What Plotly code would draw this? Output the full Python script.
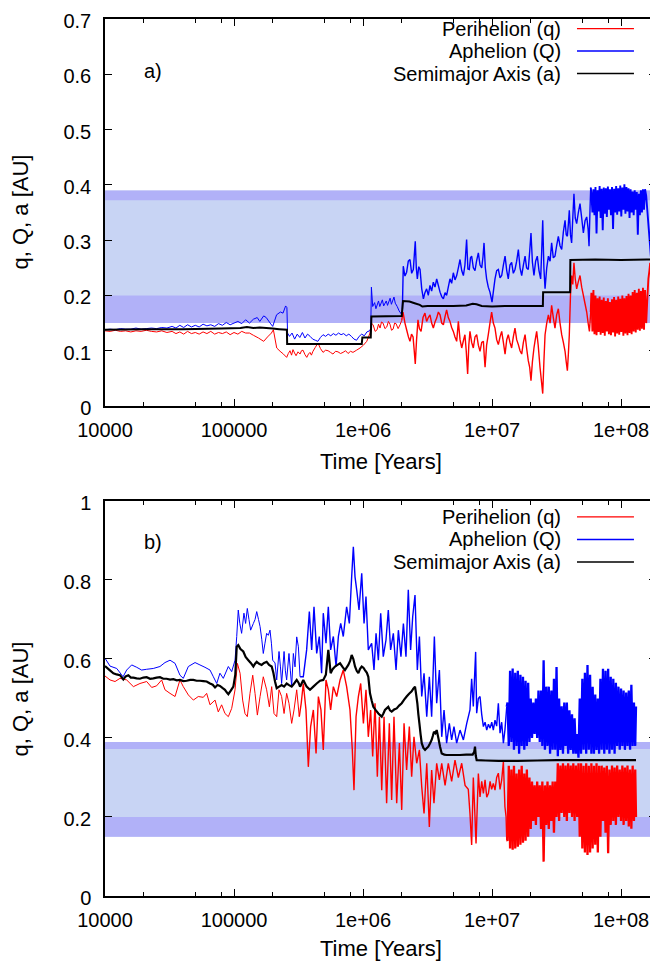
import plotly.graph_objects as go

# ---------------- Panel a) data : log10(time / yr) and AU ----------------
a_q_logt = [4.00, 4.04, 4.08, 4.12, 4.16, 4.20, 4.24, 4.28, 4.32, 4.36,
            4.40, 4.44, 4.48, 4.52, 4.55, 4.58, 4.61, 4.64, 4.67, 4.70,
            4.73, 4.76, 4.79, 4.82, 4.85, 4.88, 4.91, 4.94, 4.97, 5.00,
            5.03, 5.06, 5.09, 5.12, 5.15, 5.19, 5.23, 5.26, 5.29, 5.305,
            5.331,
            5.357, 5.383, 5.408, 5.421, 5.434, 5.446, 5.457, 5.469, 5.481, 5.496,
            5.512, 5.523, 5.535, 5.550, 5.564, 5.577, 5.589, 5.600, 5.612, 5.630,
            5.651, 5.670, 5.690, 5.710, 5.729, 5.748, 5.767, 5.787, 5.806, 5.826,
            5.845, 5.865, 5.884, 5.903, 5.922, 5.950, 5.977, 6.003, 6.029, 6.054,
            6.065, 6.078, 6.094, 6.109, 6.120, 6.132, 6.143, 6.155, 6.170, 6.184,
            6.197, 6.209, 6.221, 6.233, 6.245, 6.256, 6.272, 6.287, 6.300, 6.310,
            6.325, 6.339, 6.352, 6.364, 6.376, 6.388, 6.397, 6.405, 6.415, 6.426,
            6.437, 6.450, 6.465,
            6.480, 6.493, 6.506, 6.519, 6.532, 6.545, 6.558, 6.571, 6.584, 6.597,
            6.610, 6.623, 6.636, 6.648, 6.661, 6.674, 6.687, 6.700, 6.713, 6.726,
            6.739, 6.752, 6.765, 6.778, 6.790, 6.800, 6.811, 6.820, 6.829, 6.842,
            6.855, 6.868, 6.881, 6.894, 6.907, 6.920, 6.933, 6.940, 6.946, 6.958,
            6.971, 6.984, 6.997, 7.010, 7.023, 7.036, 7.049, 7.062, 7.075, 7.088,
            7.101, 7.114, 7.126, 7.139, 7.152, 7.165, 7.178, 7.191, 7.204, 7.217,
            7.230, 7.243, 7.256, 7.268, 7.281, 7.292, 7.302, 7.313, 7.325, 7.335,
            7.346, 7.358, 7.372, 7.383, 7.393, 7.402, 7.411, 7.424, 7.437, 7.450,
            7.462, 7.475, 7.488, 7.501, 7.514, 7.527, 7.540, 7.553, 7.566, 7.575,
            7.584, 7.592, 7.599, 7.608, 7.617, 7.626, 7.635, 7.645, 7.656, 7.669,
            7.682, 7.695, 7.708, 7.721, 7.734, 7.745, 7.755, 7.765]
a_q = [0.136, 0.135, 0.137, 0.135, 0.136, 0.134, 0.136, 0.135, 0.137, 0.135,
       0.134, 0.136, 0.133, 0.135, 0.131, 0.134, 0.130, 0.135, 0.131, 0.133,
       0.130, 0.134, 0.131, 0.135, 0.130, 0.133, 0.131, 0.134, 0.129, 0.133,
       0.130, 0.135, 0.132, 0.132, 0.128, 0.123, 0.117, 0.125, 0.132, 0.138,
       0.105,
       0.099, 0.094, 0.088, 0.095, 0.100, 0.092, 0.102, 0.096, 0.091, 0.098,
       0.094, 0.100, 0.101, 0.093, 0.088, 0.094, 0.097, 0.092, 0.099, 0.106,
       0.114, 0.104, 0.097, 0.101, 0.100, 0.097, 0.094, 0.099, 0.098, 0.095,
       0.097, 0.100, 0.095, 0.099, 0.097, 0.101, 0.105, 0.110, 0.117, 0.132,
       0.150, 0.147, 0.135, 0.138, 0.148, 0.141, 0.152, 0.150, 0.140, 0.143,
       0.153, 0.148, 0.137, 0.139, 0.150, 0.149, 0.140, 0.147, 0.155, 0.170,
       0.150, 0.137, 0.125, 0.117, 0.130, 0.125, 0.100, 0.076, 0.120, 0.156,
       0.140, 0.135, 0.160,
       0.168, 0.153, 0.160, 0.165, 0.150, 0.141, 0.152, 0.159, 0.170, 0.165,
       0.150, 0.147, 0.162, 0.174, 0.160, 0.153, 0.142, 0.135, 0.125, 0.117,
       0.153, 0.120, 0.105, 0.118, 0.129, 0.100, 0.058, 0.110, 0.135, 0.115,
       0.105, 0.125, 0.129, 0.110, 0.099, 0.115, 0.117, 0.090, 0.070, 0.110,
       0.129, 0.150, 0.170, 0.150, 0.141, 0.120, 0.111, 0.125, 0.135, 0.115,
       0.094, 0.120, 0.129, 0.115, 0.105, 0.125, 0.141, 0.120, 0.111, 0.100,
       0.094, 0.115, 0.129, 0.105, 0.082, 0.070, 0.046, 0.080, 0.105, 0.120,
       0.135, 0.110, 0.070, 0.045, 0.0225, 0.080, 0.129, 0.150, 0.165, 0.150,
       0.182, 0.160, 0.141, 0.165, 0.176, 0.150, 0.129, 0.115, 0.099, 0.080,
       0.064, 0.095, 0.129, 0.200, 0.236, 0.220, 0.259, 0.230, 0.212, 0.225,
       0.236, 0.215, 0.200, 0.185, 0.170, 0.150, 0.135, 0.170]

a_Q_logt = [4.00, 4.04, 4.08, 4.12, 4.16, 4.20, 4.24, 4.28, 4.32, 4.36,
            4.40, 4.44, 4.48, 4.52, 4.55, 4.58, 4.61, 4.64, 4.67, 4.70,
            4.73, 4.76, 4.79, 4.82, 4.85, 4.88, 4.91, 4.94, 4.97, 5.00,
            5.03, 5.06, 5.09, 5.12, 5.15, 5.18, 5.20, 5.23, 5.25, 5.28,
            5.30, 5.33, 5.36, 5.38, 5.40, 5.41,
            5.415, 5.43, 5.45, 5.47, 5.49, 5.51, 5.53, 5.55, 5.57, 5.59,
            5.61, 5.63, 5.65, 5.67, 5.69, 5.71, 5.73, 5.75, 5.77, 5.79,
            5.81, 5.83, 5.85, 5.87, 5.89, 5.91, 5.93, 5.95, 5.97, 5.99,
            6.01, 6.03, 6.05, 6.06,
            6.065, 6.075, 6.09, 6.10, 6.12, 6.13, 6.15, 6.16, 6.18, 6.19,
            6.21, 6.22, 6.24, 6.25, 6.265, 6.28, 6.295, 6.305,
            6.312, 6.325, 6.338, 6.351, 6.364, 6.377, 6.390, 6.405, 6.413, 6.421,
            6.432, 6.442, 6.455, 6.468, 6.480, 6.493, 6.506, 6.519, 6.532, 6.545,
            6.558, 6.571, 6.584, 6.597, 6.610, 6.623, 6.636, 6.648, 6.661, 6.674,
            6.687, 6.700, 6.713, 6.726, 6.739, 6.752, 6.765, 6.778, 6.790, 6.803,
            6.813, 6.824, 6.833, 6.842, 6.855, 6.868, 6.880, 6.894, 6.907, 6.920,
            6.930, 6.938, 6.948, 6.958, 6.971, 6.984, 7.000, 7.012, 7.023, 7.036,
            7.049, 7.062, 7.075, 7.088, 7.101, 7.114, 7.126, 7.139, 7.152, 7.165,
            7.178, 7.191, 7.204, 7.217, 7.230, 7.243, 7.256, 7.268, 7.281, 7.292,
            7.302, 7.313, 7.325, 7.338, 7.351, 7.364, 7.377, 7.385, 7.393, 7.402,
            7.411, 7.424, 7.437, 7.450, 7.462, 7.475, 7.488, 7.501, 7.514, 7.527,
            7.540, 7.553, 7.566, 7.575, 7.584, 7.592, 7.599, 7.608, 7.617, 7.626,
            7.635, 7.645, 7.656, 7.669, 7.682, 7.695, 7.708, 7.721, 7.734, 7.745,
            7.752, 7.760, 7.765]
a_Q = [0.138, 0.139, 0.138, 0.140, 0.139, 0.139, 0.141, 0.139, 0.140, 0.141,
       0.140, 0.142, 0.141, 0.144, 0.141, 0.146, 0.142, 0.147, 0.143, 0.146,
       0.143, 0.148, 0.145, 0.147, 0.144, 0.149, 0.146, 0.151, 0.147, 0.150,
       0.153, 0.149, 0.156, 0.150, 0.157, 0.160, 0.153, 0.163, 0.160, 0.150,
       0.144, 0.165, 0.170, 0.168, 0.181, 0.178,
       0.132, 0.126, 0.132, 0.121, 0.130, 0.124, 0.133, 0.123, 0.130, 0.126,
       0.121, 0.119, 0.117, 0.124, 0.129, 0.126, 0.130, 0.127, 0.131, 0.128,
       0.132, 0.129, 0.131, 0.127, 0.130, 0.126, 0.121, 0.119, 0.126, 0.130,
       0.127, 0.134, 0.136, 0.140,
       0.215, 0.180, 0.187, 0.176, 0.190, 0.180, 0.192, 0.181, 0.190, 0.182,
       0.195, 0.184, 0.197, 0.186, 0.180, 0.172, 0.167, 0.175,
       0.253, 0.235, 0.242, 0.262, 0.265, 0.240, 0.247, 0.298, 0.250, 0.230,
       0.252, 0.247, 0.212, 0.194, 0.205, 0.212, 0.200, 0.218, 0.208, 0.224,
       0.215, 0.230, 0.218, 0.206, 0.198, 0.194, 0.205, 0.200, 0.215, 0.230,
       0.222, 0.241, 0.228, 0.236, 0.250, 0.265, 0.245, 0.236, 0.255, 0.301,
       0.248, 0.247, 0.268, 0.271, 0.250, 0.245, 0.262, 0.277, 0.255, 0.250,
       0.270, 0.295, 0.250, 0.230, 0.215, 0.206, 0.188, 0.210, 0.230, 0.245,
       0.247, 0.232, 0.236, 0.255, 0.271, 0.245, 0.230, 0.255, 0.260, 0.240,
       0.247, 0.262, 0.283, 0.250, 0.236, 0.255, 0.271, 0.250, 0.247, 0.280,
       0.313, 0.260, 0.236, 0.262, 0.271, 0.245, 0.230, 0.280, 0.336, 0.250,
       0.212, 0.250, 0.271, 0.262, 0.295, 0.268, 0.271, 0.290, 0.307, 0.290,
       0.283, 0.315, 0.336, 0.310, 0.307, 0.330, 0.354, 0.310, 0.295, 0.340,
       0.384, 0.340, 0.330, 0.350, 0.366, 0.340, 0.313, 0.335, 0.342, 0.320,
       0.289, 0.360, 0.395]

# densely oscillating stretch (7.77 .. 8.19) and the short tail afterwards
a_dense_logt = [7.770, 7.778, 7.786, 7.794, 7.802, 7.810, 7.818, 7.826, 7.834, 7.842,
                7.850, 7.858, 7.866, 7.874, 7.882, 7.890, 7.898, 7.906, 7.914, 7.922,
                7.930, 7.938, 7.946, 7.954, 7.962, 7.970, 7.978, 7.986, 7.994, 8.002,
                8.010, 8.018, 8.026, 8.034, 8.042, 8.050, 8.058, 8.066, 8.074, 8.082,
                8.090, 8.098, 8.106, 8.114, 8.122, 8.130, 8.138, 8.146, 8.154, 8.162,
                8.170, 8.178, 8.186]
a_q_dense = [0.205, 0.135, 0.210, 0.130, 0.200, 0.128, 0.195, 0.134, 0.198, 0.129,
             0.192, 0.132, 0.196, 0.127, 0.190, 0.135, 0.195, 0.130, 0.188, 0.128,
             0.193, 0.133, 0.197, 0.126, 0.192, 0.131, 0.198, 0.129, 0.194, 0.134,
             0.200, 0.127, 0.195, 0.131, 0.199, 0.128, 0.203, 0.132, 0.200, 0.130,
             0.206, 0.135, 0.210, 0.133, 0.205, 0.138, 0.212, 0.136, 0.208, 0.140,
             0.214, 0.138, 0.210]
a_Q_dense = [0.385, 0.350, 0.392, 0.345, 0.396, 0.312, 0.390, 0.352, 0.398, 0.340,
             0.393, 0.318, 0.395, 0.348, 0.394, 0.342, 0.397, 0.355, 0.392, 0.345,
             0.396, 0.320, 0.393, 0.350, 0.398, 0.346, 0.394, 0.352, 0.399, 0.343,
             0.395, 0.355, 0.401, 0.348, 0.396, 0.352, 0.394, 0.340, 0.392, 0.350,
             0.388, 0.345, 0.390, 0.355, 0.387, 0.310, 0.384, 0.345, 0.390, 0.350,
             0.392, 0.355, 0.392]
a_q_tail_logt = [8.195, 8.205, 8.212, 8.220, 8.226, 8.232, 8.238, 8.243]
a_q_tail = [0.150, 0.200, 0.230, 0.245, 0.259, 0.250, 0.262, 0.255]
a_Q_tail_logt = [8.195, 8.205, 8.215, 8.225, 8.232, 8.238, 8.243]
a_Q_tail = [0.380, 0.350, 0.320, 0.290, 0.268, 0.285, 0.300]

a_a_logt = [4.00, 4.30, 4.60, 4.90, 5.05, 5.10, 5.15, 5.20, 5.25, 5.30,
            5.35, 5.41, 5.412, 5.99, 5.995, 6.06, 6.065, 6.30, 6.31, 6.36,
            6.40, 6.44, 6.46, 6.50, 6.60, 6.70, 6.80, 6.85, 6.88, 6.92,
            7.00, 7.10, 7.20, 7.394, 7.396, 7.605, 7.607, 7.80, 8.00, 8.20,
            8.245]
a_a = [0.138, 0.139, 0.139, 0.140, 0.141, 0.143, 0.141, 0.142, 0.141, 0.140,
       0.139, 0.138, 0.112, 0.112, 0.124, 0.124, 0.162, 0.163, 0.190, 0.189,
       0.186, 0.183, 0.180, 0.181, 0.181, 0.181, 0.182, 0.185, 0.184, 0.181,
       0.180, 0.181, 0.181, 0.181, 0.206, 0.206, 0.264, 0.265, 0.264, 0.265,
       0.265]

# ---------------- Panel b) data ----------------
b_q_logt = [4.000, 4.039, 4.078, 4.116, 4.168, 4.220, 4.271, 4.323, 4.362, 4.400,
            4.439, 4.465, 4.504, 4.543, 4.581, 4.607, 4.646, 4.685, 4.723, 4.762,
            4.788, 4.814, 4.853, 4.878, 4.904, 4.930, 4.956, 4.982, 5.008, 5.026,
            5.047, 5.067, 5.085, 5.103, 5.124, 5.145, 5.163, 5.181, 5.202, 5.227,
            5.253, 5.274, 5.292, 5.310, 5.331, 5.349, 5.369, 5.388, 5.408, 5.426,
            5.447, 5.465, 5.486, 5.506,
            5.521, 5.537, 5.558, 5.576, 5.594, 5.615, 5.636, 5.654, 5.674, 5.692,
            5.713, 5.731, 5.749, 5.770, 5.796, 5.822, 5.847, 5.873, 5.899, 5.917,
            5.930, 5.946, 5.964, 5.982, 6.003, 6.023, 6.041, 6.059, 6.075, 6.093,
            6.111, 6.127, 6.145, 6.163, 6.183, 6.204, 6.222, 6.240, 6.261, 6.282,
            6.300, 6.318, 6.338, 6.359, 6.377, 6.395, 6.416, 6.437, 6.455, 6.473,
            6.494, 6.514, 6.532, 6.550, 6.571, 6.592, 6.610, 6.636, 6.661, 6.687,
            6.713, 6.739, 6.765, 6.791, 6.816, 6.829, 6.842, 6.855, 6.868, 6.876,
            6.894,
            6.907, 6.920, 6.933, 6.946, 6.959, 6.972, 6.985, 6.997, 7.010, 7.023,
            7.036, 7.049, 7.062, 7.075, 7.088, 7.100, 7.109, 7.114]
b_q = [0.557, 0.547, 0.543, 0.551, 0.547, 0.530, 0.538, 0.543, 0.528, 0.532,
       0.547, 0.522, 0.513, 0.505, 0.547, 0.530, 0.509, 0.496, 0.505, 0.503,
       0.513, 0.484, 0.496, 0.466, 0.484, 0.462, 0.454, 0.475, 0.522, 0.589,
       0.564, 0.496, 0.462, 0.454, 0.513, 0.559, 0.513, 0.458, 0.505, 0.555,
       0.522, 0.479, 0.530, 0.462, 0.454, 0.522, 0.505, 0.462, 0.513, 0.488,
       0.437, 0.471, 0.522, 0.454,
       0.488, 0.538, 0.471, 0.327, 0.429, 0.471, 0.361, 0.505, 0.471, 0.370,
       0.547, 0.522, 0.471, 0.530, 0.505, 0.547, 0.572, 0.530, 0.471, 0.370,
       0.268, 0.454, 0.505, 0.538, 0.437, 0.522, 0.403, 0.471, 0.353, 0.488,
       0.302, 0.454, 0.268, 0.454, 0.235, 0.437, 0.243, 0.454, 0.235, 0.387,
       0.218, 0.437, 0.319, 0.429, 0.302, 0.403, 0.336, 0.370, 0.277, 0.209,
       0.336, 0.175, 0.319, 0.235, 0.336, 0.294, 0.336, 0.280, 0.336, 0.290,
       0.344, 0.300, 0.336, 0.280, 0.270, 0.209, 0.129, 0.300, 0.200, 0.133,
       0.310,
       0.251, 0.290, 0.260, 0.294, 0.250, 0.260, 0.290, 0.270, 0.285, 0.268,
       0.300, 0.311, 0.270, 0.294, 0.340, 0.226, 0.200, 0.142]

b_Q_logt = [4.000, 4.039, 4.091, 4.140, 4.168, 4.207, 4.246, 4.284, 4.323, 4.374,
            4.426, 4.465, 4.504, 4.543, 4.581, 4.607, 4.646, 4.698, 4.736, 4.775,
            4.814, 4.840, 4.866, 4.891, 4.917, 4.956, 4.982, 5.008, 5.021, 5.033,
            5.045, 5.059, 5.077, 5.090, 5.103, 5.116, 5.129, 5.150, 5.163, 5.176,
            5.190, 5.202, 5.215, 5.227, 5.240, 5.253, 5.266, 5.279, 5.290, 5.300,
            5.318, 5.331, 5.349, 5.360, 5.369, 5.388, 5.398, 5.408, 5.426, 5.437,
            5.447, 5.460, 5.473, 5.486, 5.499,
            5.512, 5.537, 5.563, 5.584, 5.602, 5.620, 5.641, 5.661, 5.679, 5.692,
            5.713, 5.731, 5.749, 5.770, 5.791, 5.809, 5.827, 5.847, 5.873, 5.894,
            5.912, 5.925, 5.938, 5.951, 5.969, 5.990, 6.008, 6.023, 6.041, 6.067,
            6.085, 6.101, 6.119, 6.137, 6.157, 6.178, 6.196, 6.214, 6.235, 6.256,
            6.274, 6.294, 6.313, 6.333, 6.351, 6.369, 6.385, 6.403, 6.421, 6.437,
            6.455, 6.473, 6.494, 6.514, 6.532, 6.553, 6.571, 6.592, 6.610, 6.628,
            6.648, 6.669, 6.687, 6.705, 6.726, 6.752, 6.778, 6.804, 6.829, 6.842,
            6.855, 6.873, 6.881,
            6.894, 6.907, 6.920, 6.933, 6.946, 6.959, 6.972, 6.985, 6.998, 7.010,
            7.023, 7.036, 7.049, 7.062, 7.075, 7.088, 7.100, 7.114]
b_Q = [0.602, 0.582, 0.576, 0.555, 0.572, 0.585, 0.579, 0.572, 0.574, 0.576,
       0.581, 0.591, 0.597, 0.589, 0.559, 0.551, 0.581, 0.591, 0.585, 0.579,
       0.572, 0.555, 0.538, 0.564, 0.551, 0.581, 0.568, 0.597, 0.657, 0.724,
       0.690, 0.665, 0.716, 0.690, 0.728, 0.700, 0.673, 0.690, 0.700, 0.720,
       0.700, 0.682, 0.650, 0.614, 0.640, 0.665, 0.660, 0.673, 0.640, 0.597,
       0.590, 0.547, 0.619, 0.580, 0.538, 0.619, 0.570, 0.547, 0.614, 0.570,
       0.530, 0.614, 0.580, 0.656, 0.631,
       0.555, 0.555, 0.623, 0.720, 0.623, 0.732, 0.614, 0.657, 0.564, 0.716,
       0.640, 0.732, 0.623, 0.657, 0.581, 0.657, 0.690, 0.657, 0.732, 0.690,
       0.808, 0.884, 0.808, 0.775, 0.724, 0.817, 0.690, 0.758, 0.623, 0.640,
       0.572, 0.665, 0.597, 0.716, 0.606, 0.648, 0.724, 0.623, 0.665, 0.572,
       0.673, 0.606, 0.690, 0.606, 0.775, 0.623, 0.707, 0.762, 0.572, 0.657,
       0.505, 0.564, 0.454, 0.555, 0.454, 0.657, 0.488, 0.572, 0.403, 0.471,
       0.387, 0.437, 0.395, 0.429, 0.387, 0.420, 0.395, 0.437, 0.471, 0.550,
       0.480, 0.618, 0.463,
       0.500, 0.505, 0.460, 0.429, 0.440, 0.420, 0.435, 0.425, 0.440, 0.420,
       0.445, 0.430, 0.488, 0.412, 0.440, 0.387, 0.420, 0.479]

# densely oscillating stretch (7.12 .. 8.12)
b_dense_logt = [7.12, 7.13, 7.14, 7.15, 7.16, 7.17, 7.18, 7.19, 7.20, 7.21,
                7.22, 7.23, 7.24, 7.25, 7.26, 7.27, 7.28, 7.29, 7.30, 7.31,
                7.32, 7.33, 7.34, 7.35, 7.36, 7.37, 7.38, 7.39, 7.40, 7.41,
                7.42, 7.43, 7.44, 7.45, 7.46, 7.47, 7.48, 7.49, 7.50, 7.51,
                7.52, 7.53, 7.54, 7.55, 7.56, 7.57, 7.58, 7.59, 7.60, 7.61,
                7.62, 7.63, 7.64, 7.65, 7.66, 7.67, 7.68, 7.69, 7.70, 7.71,
                7.72, 7.73, 7.74, 7.75, 7.76, 7.77, 7.78, 7.79, 7.80, 7.81,
                7.82, 7.83, 7.84, 7.85, 7.86, 7.87, 7.88, 7.89, 7.90, 7.91,
                7.92, 7.93, 7.94, 7.95, 7.96, 7.97, 7.98, 7.99, 8.00, 8.01,
                8.02, 8.03, 8.04, 8.05, 8.06, 8.07, 8.08, 8.09, 8.10, 8.11,
                8.116]
b_q_dense = [0.14, 0.33, 0.12, 0.32, 0.117, 0.33, 0.12, 0.31, 0.125, 0.32,
             0.13, 0.33, 0.135, 0.31, 0.14, 0.32, 0.15, 0.30, 0.17, 0.29,
             0.19, 0.28, 0.18, 0.29, 0.20, 0.28, 0.17, 0.29, 0.087, 0.28,
             0.18, 0.29, 0.17, 0.28, 0.19, 0.29, 0.16, 0.29, 0.20, 0.336,
             0.19, 0.33, 0.21, 0.336, 0.20, 0.33, 0.19, 0.336, 0.21, 0.33,
             0.20, 0.336, 0.19, 0.33, 0.20, 0.336, 0.15, 0.336, 0.12, 0.33,
             0.11, 0.336, 0.104, 0.33, 0.11, 0.336, 0.12, 0.33, 0.13, 0.336,
             0.11, 0.33, 0.15, 0.33, 0.19, 0.325, 0.16, 0.33, 0.108, 0.32,
             0.18, 0.33, 0.19, 0.325, 0.18, 0.33, 0.20, 0.32, 0.19, 0.33,
             0.18, 0.325, 0.19, 0.33, 0.176, 0.32, 0.17, 0.33, 0.19, 0.32,
             0.20]
b_Q_dense = [0.49, 0.38, 0.57, 0.39, 0.576, 0.37, 0.565, 0.38, 0.57, 0.36,
             0.56, 0.38, 0.555, 0.37, 0.545, 0.38, 0.54, 0.39, 0.50, 0.40,
             0.49, 0.41, 0.50, 0.40, 0.52, 0.39, 0.52, 0.38, 0.597, 0.37,
             0.53, 0.38, 0.53, 0.36, 0.52, 0.37, 0.55, 0.37, 0.58, 0.354,
             0.50, 0.37, 0.48, 0.36, 0.49, 0.38, 0.49, 0.36, 0.47, 0.37,
             0.46, 0.36, 0.45, 0.36, 0.41, 0.35, 0.50, 0.36, 0.55, 0.37,
             0.565, 0.36, 0.585, 0.37, 0.56, 0.36, 0.53, 0.36, 0.51, 0.37,
             0.50, 0.36, 0.55, 0.37, 0.575, 0.36, 0.57, 0.37, 0.575, 0.36,
             0.555, 0.37, 0.55, 0.36, 0.54, 0.38, 0.53, 0.37, 0.525, 0.38,
             0.52, 0.37, 0.515, 0.38, 0.52, 0.37, 0.535, 0.38, 0.49, 0.38,
             0.48]

b_a_logt = [4.000, 4.036, 4.065, 4.090, 4.116, 4.142, 4.160, 4.181, 4.200, 4.220,
            4.245, 4.271, 4.297, 4.323, 4.350, 4.375, 4.400, 4.426, 4.452, 4.478,
            4.504, 4.530, 4.556, 4.581, 4.607, 4.633, 4.660, 4.685, 4.710, 4.736,
            4.762, 4.788, 4.814, 4.835, 4.853, 4.872, 4.891, 4.910, 4.930, 4.945,
            4.956, 4.975, 4.995, 5.010, 5.021, 5.033, 5.050, 5.072, 5.090, 5.111,
            5.130, 5.150, 5.163, 5.176, 5.195, 5.214, 5.233, 5.253, 5.272, 5.292,
            5.305, 5.318, 5.331, 5.350, 5.369, 5.388, 5.408, 5.427, 5.447, 5.466,
            5.486, 5.500, 5.512, 5.537, 5.563, 5.589, 5.615, 5.641, 5.667, 5.692,
            5.712, 5.731, 5.749, 5.766, 5.783, 5.802, 5.822, 5.841, 5.860, 5.886,
            5.900, 5.912, 5.925, 5.938, 5.951, 5.964, 5.977, 5.990, 6.003, 6.015,
            6.030, 6.041, 6.054, 6.067, 6.080, 6.100, 6.119, 6.132, 6.145, 6.158,
            6.170, 6.183, 6.196, 6.209, 6.222, 6.241, 6.261, 6.280, 6.300, 6.319,
            6.338, 6.357, 6.377, 6.390, 6.403, 6.412, 6.421, 6.429, 6.437, 6.446,
            6.455, 6.468, 6.481, 6.493, 6.506, 6.519, 6.532, 6.541, 6.550, 6.560,
            6.571, 6.584, 6.597, 6.610, 6.630, 6.648, 6.700, 6.750, 6.800, 6.850,
            6.862, 6.868, 6.874, 6.881, 6.950, 7.050, 7.200, 7.350, 7.500, 7.650,
            7.800, 7.950, 8.050, 8.116]
b_a = [0.582, 0.572, 0.564, 0.561, 0.559, 0.548, 0.556, 0.559, 0.553, 0.553,
       0.551, 0.550, 0.553, 0.554, 0.550, 0.551, 0.553, 0.554, 0.550, 0.550,
       0.548, 0.549, 0.546, 0.547, 0.544, 0.545, 0.547, 0.547, 0.545, 0.545,
       0.544, 0.543, 0.538, 0.535, 0.528, 0.534, 0.532, 0.527, 0.522, 0.515,
       0.511, 0.520, 0.530, 0.560, 0.631, 0.635, 0.625, 0.619, 0.605, 0.597,
       0.590, 0.581, 0.588, 0.593, 0.588, 0.585, 0.590, 0.593, 0.585, 0.581,
       0.565, 0.543, 0.526, 0.530, 0.534, 0.530, 0.538, 0.534, 0.530, 0.538,
       0.547, 0.540, 0.530, 0.547, 0.530, 0.522, 0.530, 0.538, 0.545, 0.547,
       0.560, 0.623, 0.564, 0.575, 0.581, 0.585, 0.589, 0.580, 0.572, 0.585,
       0.595, 0.610, 0.600, 0.581, 0.570, 0.564, 0.575, 0.581, 0.578, 0.572,
       0.565, 0.555, 0.513, 0.495, 0.479, 0.470, 0.462, 0.458, 0.454, 0.462,
       0.471, 0.475, 0.479, 0.470, 0.467, 0.472, 0.475, 0.482, 0.488, 0.497,
       0.505, 0.512, 0.518, 0.525, 0.530, 0.510, 0.488, 0.460, 0.437, 0.410,
       0.387, 0.375, 0.370, 0.374, 0.378, 0.386, 0.395, 0.405, 0.416, 0.412,
       0.420, 0.400, 0.378, 0.361, 0.358, 0.357, 0.357, 0.357, 0.358, 0.358,
       0.365, 0.378, 0.355, 0.344, 0.343, 0.342, 0.342, 0.343, 0.344, 0.344,
       0.344, 0.344, 0.344, 0.344]

# shaded zones (AU) and axis labelling
band_light = (0.15, 0.39)
band_dark = [(0.15, 0.20), (0.372, 0.39)]
major_ticks = [1e4, 1e5, 1e6, 1e7, 1e8]
major_text = ["10000", "100000", "1e+06", "1e+07", "1e+08"]
minor_ticks = [2e4, 5e4, 8e4, 2e5, 5e5, 8e5, 2e6, 5e6, 8e6, 2e7, 5e7, 8e7]
legend_names = ["Perihelion (q)", "Aphelion (Q)", "Semimajor Axis (a)"]

for xs, ys in [(a_q_logt, a_q), (a_Q_logt, a_Q), (a_a_logt, a_a),
               (a_dense_logt, a_q_dense), (a_dense_logt, a_Q_dense),
               (a_q_tail_logt, a_q_tail), (a_Q_tail_logt, a_Q_tail),
               (b_q_logt, b_q), (b_Q_logt, b_Q), (b_a_logt, b_a),
               (b_dense_logt, b_q_dense), (b_dense_logt, b_Q_dense)]:
    assert len(xs) == len(ys), (len(xs), len(ys))

RED, BLUE, BLACK = "#ff0000", "#0000ff", "#000000"
FONT = "Liberation Sans, Arial, Helvetica, sans-serif"
fig = go.Figure()


def line(lt, vals, color, width, xa, ya):
    fig.add_trace(go.Scatter(
        x=[10 ** v for v in lt], y=vals, mode="lines",
        line=dict(color=color, width=width, simplify=False),
        xaxis=xa, yaxis=ya, showlegend=False, hoverinfo="skip"))


def noisy(lt, vals, color, xa, ya, thr):
    # thin line before the noisy epoch, slightly heavier afterwards
    i = next(k for k, v in enumerate(lt) if v >= thr)
    line(lt[:i + 1], vals[:i + 1], color, 1, xa, ya)
    line(lt[i:], vals[i:], color, 1.4, xa, ya)


# panel a
noisy(a_q_logt, a_q, RED, "x", "y", 6.30)
line([a_q_logt[-1]] + a_dense_logt + a_q_tail_logt,
     [a_q[-1]] + a_q_dense + a_q_tail, RED, 1.9, "x", "y")
noisy(a_Q_logt, a_Q, BLUE, "x", "y", 6.30)
line([a_Q_logt[-1]] + a_dense_logt + a_Q_tail_logt,
     [a_Q[-1]] + a_Q_dense + a_Q_tail, BLUE, 1.9, "x", "y")
line(a_a_logt, a_a, BLACK, 2, "x", "y")

# panel b
noisy(b_q_logt, b_q, RED, "x2", "y2", 5.50)
line([b_q_logt[-1]] + b_dense_logt, [b_q[-1]] + b_q_dense, RED, 2.3, "x2", "y2")
noisy(b_Q_logt, b_Q, BLUE, "x2", "y2", 5.50)
line([b_Q_logt[-1]] + b_dense_logt, [b_Q[-1]] + b_Q_dense, BLUE, 2.3, "x2", "y2")
line(b_a_logt, b_a, BLACK, 2.2, "x2", "y2")

shapes = []
for xref, yref in [("x domain", "y"), ("x2 domain", "y2")]:
    shapes.append(dict(type="rect", xref=xref, yref=yref, x0=0, x1=1,
                       y0=band_light[0], y1=band_light[1],
                       fillcolor="#c8d4f4", line=dict(width=0), layer="below"))
    for lo, hi in band_dark:
        shapes.append(dict(type="rect", xref=xref, yref=yref, x0=0, x1=1,
                           y0=lo, y1=hi, fillcolor="#b1b1f8",
                           line=dict(width=0), layer="below"))

annotations = []
# gnuplot-style keys: right-aligned text followed by a line sample
for rows in [[0.9891, 0.9635, 0.9378], [0.4322, 0.4065, 0.3808]]:
    for yy, nm, c, w in zip(rows, legend_names, [RED, BLUE, BLACK], [1.3, 1.3, 1.6]):
        annotations.append(dict(xref="paper", yref="paper", x=0.8318, y=yy,
                                text=nm, showarrow=False, xanchor="right",
                                yanchor="middle",
                                font=dict(family=FONT, size=20, color="black")))
        shapes.append(dict(type="line", xref="paper", yref="paper",
                           x0=0.8566, x1=0.960, y0=yy, y1=yy,
                           line=dict(color=c, width=w)))

annotations.append(dict(xref="x domain", yref="y domain", x=0.087, y=0.866,
                        text="a)", showarrow=False, xanchor="center", yanchor="middle",
                        font=dict(family=FONT, size=20, color="black")))
annotations.append(dict(xref="x2 domain", yref="y2 domain", x=0.087, y=0.895,
                        text="b)", showarrow=False, xanchor="center", yanchor="middle",
                        font=dict(family=FONT, size=20, color="black")))
for yy in [0.7805, 0.2252]:
    annotations.append(dict(xref="paper", yref="paper", x=-0.1525, y=yy,
                            text="q, Q, a [AU]", textangle=-90, showarrow=False,
                            xanchor="center", yanchor="middle",
                            font=dict(family=FONT, size=22, color="black")))
for yy in [0.4960, -0.0604]:
    annotations.append(dict(xref="paper", yref="paper", x=0.5, y=yy,
                            text="Time [Years]", showarrow=False,
                            xanchor="center", yanchor="middle",
                            font=dict(family=FONT, size=22, color="black")))

xcommon = dict(type="log", range=[4, 8.271], tickmode="array",
               tickvals=major_ticks, ticktext=major_text, automargin=False,
               ticklabeloverflow="allow",
               ticks="inside", ticklen=7, tickwidth=1, tickcolor="black",
               showline=True, linecolor="black", linewidth=1.5, mirror="allticks",
               showgrid=False, zeroline=False, ticklabelstandoff=5,
               tickfont=dict(family=FONT, size=20, color="black"),
               minor=dict(tickmode="array", tickvals=minor_ticks, ticks="inside",
                          ticklen=4, tickcolor="black", showgrid=False))
ycommon = dict(ticks="inside", ticklen=7, tickwidth=1, tickcolor="black",
               showline=True, linecolor="black", linewidth=1.5, mirror="allticks",
               showgrid=False, zeroline=False, ticklabelstandoff=8, automargin=False,
               ticklabeloverflow="allow", ticklabelshift=2,
               tickfont=dict(family=FONT, size=20, color="black"))

# the page body adds an 8 px offset, so the figure is 8 px smaller on each side
fig.update_layout(
    width=650, height=955,
    margin=dict(l=97, r=2, t=11, b=67, autoexpand=False),
    paper_bgcolor="white", plot_bgcolor="white",
    xaxis=dict(domain=[0, 1], anchor="y", **xcommon),
    yaxis=dict(domain=[0.5587, 1], anchor="x", range=[0, 0.7], dtick=0.1, **ycommon),
    xaxis2=dict(domain=[0, 1], anchor="y2", **xcommon),
    yaxis2=dict(domain=[0, 0.4504], anchor="x2", range=[0, 1], dtick=0.2, **ycommon),
    shapes=shapes, annotations=annotations, showlegend=False,
    font=dict(family=FONT, size=20, color="black"),
)

fig.write_html("out.html")
